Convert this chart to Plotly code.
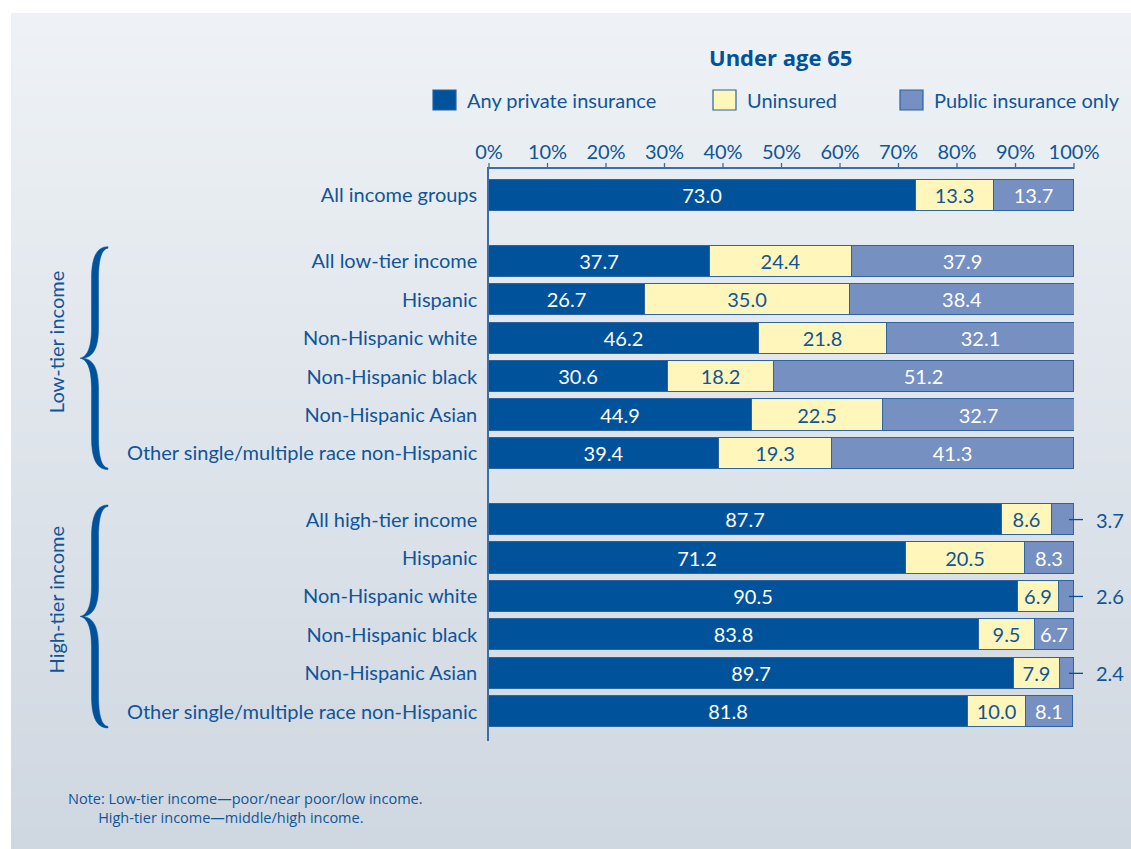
import plotly.graph_objects as go

# ---- data -------------------------------------------------------------
row_labels = [
    "All income groups",
    "All low-tier income", "Hispanic", "Non-Hispanic white", "Non-Hispanic black",
    "Non-Hispanic Asian", "Other single/multiple race non-Hispanic",
    "All high-tier income", "Hispanic", "Non-Hispanic white", "Non-Hispanic black",
    "Non-Hispanic Asian", "Other single/multiple race non-Hispanic",
]
row_group = [0, 1, 1, 1, 1, 1, 1, 2, 2, 2, 2, 2, 2]
group_names = {1: "Low-tier income", 2: "High-tier income"}

private = [73.0, 37.7, 26.7, 46.2, 30.6, 44.9, 39.4, 87.7, 71.2, 90.5, 83.8, 89.7, 81.8]
uninsured = [13.3, 24.4, 35.0, 21.8, 18.2, 22.5, 19.3, 8.6, 20.5, 6.9, 9.5, 7.9, 10.0]
public = [13.7, 37.9, 38.4, 32.1, 51.2, 32.7, 41.3, 3.7, 8.3, 2.6, 6.7, 2.4, 8.1]

x_ticks = [0, 10, 20, 30, 40, 50, 60, 70, 80, 90, 100]

# ---- style ------------------------------------------------------------
FONT = "Lato"
NOTE_FONT = "Open Sans"
DARK = "#00529b"
TEXT = "#0f5599"
C_PRIV = "#00529b"
C_UNINS = "#fff6bb"
C_PUB = "#7590c1"
EDGE = "#2c63a0"
AXIS = "#3a6fa8"
FS = 20

W, H = 1131, 849
ML, MR, MT, MB = 489, 57, 169, 108
PW, PH = W - ML - MR, H - MT - MB

GROUP_GAP = 0.72
y_pos = [i + GROUP_GAP * g for i, g in enumerate(row_group)]
Y_TOP, Y_BOT = -0.68, y_pos[-1] + 0.76
BAR_W = 0.81
SMALL = 5.0  # public shares below this are labelled outside the bar
X_MIN, X_MAX = 0, 100


def fmt(v):
    return f"{v:.1f}"


def px_x(p):
    return (p - ML) / PW


def py_y(p):
    return 1 - (p - MT) / PH


def data_to_py(y):
    return MT + (y - Y_TOP) / (Y_BOT - Y_TOP) * PH


def data_to_paper_x(x):
    return (x - X_MIN) / (X_MAX - X_MIN)


fig = go.Figure()

segments = [
    ("Any private insurance", private, C_PRIV, "white", [fmt(v) for v in private]),
    ("Uninsured", uninsured, C_UNINS, TEXT, [fmt(v) for v in uninsured]),
    ("Public insurance only", public, C_PUB, "white",
     ["" if v < SMALL else fmt(v) for v in public]),
]
for name, vals, col, tcol, txt in segments:
    fig.add_trace(go.Bar(
        name=name, x=vals, y=y_pos, orientation="h", width=BAR_W,
        marker=dict(color=col, line=dict(color=EDGE, width=1)),
        text=txt, textposition="inside", insidetextanchor="middle", textangle=0,
        textfont=dict(family=FONT, size=FS, color=tcol),
        hoverinfo="name+x", showlegend=False,
    ))

shapes = []
annotations = []

# gradient backdrop built from thin horizontal bands
top_rgb = (238, 242, 246)
bot_rgb = (207, 215, 224)
bg_top, bg_left = 13, 11
n_bands = 80
band_h = (H - bg_top) / n_bands
for k in range(n_bands):
    t = k / (n_bands - 1)
    rgb = tuple(round(a + (b - a) * t) for a, b in zip(top_rgb, bot_rgb))
    y0 = bg_top + k * band_h
    shapes.append(dict(
        type="rect", xref="paper", yref="paper", layer="below",
        x0=px_x(bg_left), x1=px_x(W + 2), y0=py_y(y0), y1=py_y(y0 + band_h + 1),
        fillcolor=f"rgb{rgb}", line=dict(width=0),
    ))

# upward tick marks on the top percentage axis
for v in x_ticks:
    xp = data_to_paper_x(v)
    shapes.append(dict(
        type="line", xref="paper", yref="paper",
        x0=xp, x1=xp, y0=1, y1=1 + 6 / PH, line=dict(color=AXIS, width=1.3),
    ))

# leader lines + outside labels for the thin public segments
totals = [a + b + c for a, b, c in zip(private, uninsured, public)]
for yp, pv, tot in zip(y_pos, public, totals):
    if pv < SMALL:
        anchor = data_to_paper_x(min(tot, X_MAX))
        yy = py_y(data_to_py(yp))
        shapes.append(dict(
            type="line", xref="paper", yref="paper", xsizemode="pixel", xanchor=anchor,
            x0=-5, x1=9, y0=yy, y1=yy, line=dict(color=DARK, width=1.3),
        ))
        annotations.append(dict(
            x=anchor, y=yy, xref="paper", yref="paper", text=fmt(pv), showarrow=False,
            xanchor="left", yanchor="middle", xshift=20,
            font=dict(family=FONT, size=FS, color=TEXT),
        ))

# curly braces and rotated group titles
for g, title in group_names.items():
    ys = [yp for yp, gg in zip(y_pos, row_group) if gg == g]
    T = data_to_py(ys[0] - 0.38)
    B = data_to_py(ys[-1] + 0.42)
    M = (T + B) / 2
    E, S, P = 108, 95, 80
    h = 3.5  # half thickness of the brace arms

    def pt(x, y):
        return f"{px_x(x):.5f},{py_y(y):.5f}"

    path = (
        f"M{pt(E, T)} "
        f"C{pt(S + 2, T)} {pt(S - h, T + 10)} {pt(S - h, T + 32)} "
        f"L{pt(S - h, M - 30)} "
        f"C{pt(S - h, M - 8)} {pt(P + 6, M - 1)} {pt(P, M)} "
        f"C{pt(P + 6, M + 1)} {pt(S - h, M + 8)} {pt(S - h, M + 30)} "
        f"L{pt(S - h, B - 32)} "
        f"C{pt(S - h, B - 10)} {pt(S + 2, B)} {pt(E, B)} "
        f"L{pt(E, B - 1.5)} "
        f"C{pt(S + 7, B - 2)} {pt(S + h, B - 12)} {pt(S + h, B - 32)} "
        f"L{pt(S + h, M + 30)} "
        f"C{pt(S + h, M + 8)} {pt(P + 12, M + 1)} {pt(P + 3, M)} "
        f"C{pt(P + 12, M - 1)} {pt(S + h, M - 8)} {pt(S + h, M - 30)} "
        f"L{pt(S + h, T + 32)} "
        f"C{pt(S + h, T + 12)} {pt(S + 7, T + 2)} {pt(E, T + 1.5)} Z"
    )
    shapes.append(dict(type="path", xref="paper", yref="paper", path=path,
                       fillcolor=DARK, line=dict(color=DARK, width=0.5)))
    annotations.append(dict(
        x=px_x(56), y=py_y(M - 16), xref="paper", yref="paper", text=title,
        textangle=-90, showarrow=False, xanchor="center", yanchor="middle",
        font=dict(family=FONT, size=FS, color=TEXT),
    ))

# legend drawn as swatches and labels
legend_items = [("Any private insurance", C_PRIV, 433), ("Uninsured", C_UNINS, 713),
                ("Public insurance only", C_PUB, 900)]
for name, col, x0 in legend_items:
    shapes.append(dict(type="rect", xref="paper", yref="paper",
                       x0=px_x(x0), x1=px_x(x0 + 23), y0=py_y(90), y1=py_y(110),
                       fillcolor=col, line=dict(color=EDGE, width=1.2)))
    annotations.append(dict(
        x=px_x(x0 + 32), y=py_y(100), xref="paper", yref="paper", text=name,
        xanchor="left", yanchor="middle", showarrow=False,
        font=dict(family=FONT, size=FS, color=TEXT),
    ))

# title and note
annotations.append(dict(
    x=px_x(780), y=py_y(57), xref="paper", yref="paper", text="<b>Under age 65</b>",
    xanchor="center", yanchor="middle", showarrow=False,
    font=dict(family=NOTE_FONT, size=22, color=DARK),
))
indent = "\u00a0" * 8
annotations.append(dict(
    x=px_x(66), y=py_y(808), xref="paper", yref="paper",
    text=("Note: Low-tier income\u2014poor/near poor/low income.<br>"
          f"{indent}High-tier income\u2014middle/high income."),
    xanchor="left", yanchor="middle", align="left", showarrow=False,
    font=dict(family=NOTE_FONT, size=14.5, color=TEXT),
))

fig.update_layout(
    width=W, height=H,
    margin=dict(l=ML, r=MR, t=MT, b=MB, pad=0),
    barmode="stack", bargap=0,
    paper_bgcolor="white", plot_bgcolor="rgba(0,0,0,0)",
    font=dict(family=FONT, color=TEXT),
    uniformtext=dict(minsize=FS, mode="show"),
    shapes=shapes, annotations=annotations,
    xaxis=dict(
        range=[X_MIN, X_MAX], side="top", tickvals=x_ticks,
        ticktext=[f"{v}%" for v in x_ticks], showgrid=False, zeroline=False,
        showline=True, linecolor=AXIS, linewidth=1.5, ticks="",
        ticklabelstandoff=0,
        tickfont=dict(family=FONT, size=FS, color=TEXT), fixedrange=True,
    ),
    yaxis=dict(
        range=[Y_BOT, Y_TOP], tickvals=y_pos, ticktext=row_labels,
        showgrid=False, zeroline=False, showline=True, linecolor=AXIS,
        linewidth=1.5, ticks="", ticklabelstandoff=6,
        tickfont=dict(family=FONT, size=FS, color=TEXT), fixedrange=True,
    ),
)

fig.write_html("out.html")
